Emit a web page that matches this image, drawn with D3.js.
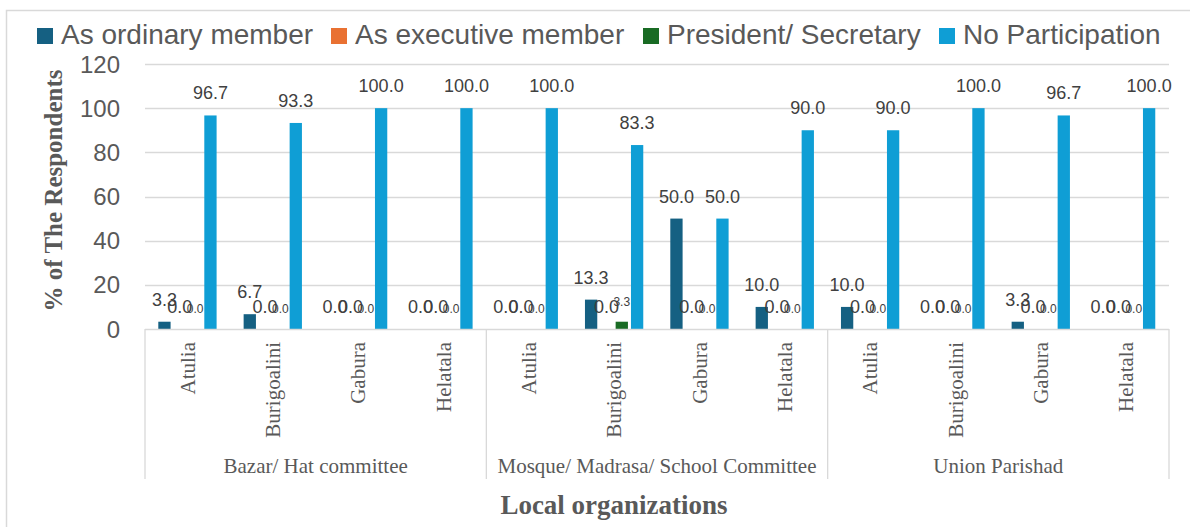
<!DOCTYPE html>
<html>
<head>
<meta charset="utf-8">
<script src="https://cdn.jsdelivr.net/npm/d3@7"></script>
<style>
  html, body { margin: 0; padding: 0; background: #fff; }
  svg { display: block; }
</style>
</head>
<body>
<svg id="chart" width="1190" height="527"></svg>
<script>
const groups = ["Bazar/ Hat committee", "Mosque/ Madrasa/ School Committee", "Union Parishad"];
const villages = ["Atulia", "Burigoalini", "Gabura", "Helatala"];
const seriesNames = ["As ordinary member", "As executive member", "President/ Secretary", "No Participation"];
const seriesColors = ["#156082", "#E97132", "#196B24", "#0F9ED5"];
const ordinary = [3.3, 6.7, 0.0, 0.0, 0.0, 13.3, 50.0, 10.0, 10.0, 0.0, 3.3, 0.0];
const executive = [0.0, 0.0, 0.0, 0.0, 0.0, 0.0, 0.0, 0.0, 0.0, 0.0, 0.0, 0.0];
const president = [0.0, 0.0, 0.0, 0.0, 0.0, 3.3, 0.0, 0.0, 0.0, 0.0, 0.0, 0.0];
const noParticipation = [96.7, 93.3, 100.0, 100.0, 100.0, 83.3, 50.0, 90.0, 90.0, 100.0, 96.7, 100.0];
const yTicks = [0, 20, 40, 60, 80, 100, 120];
const yTitle = "% of The Respondents";
const xTitle = "Local organizations";

(function () {
const seriesValues = [ordinary, executive, president, noParticipation];
const categories = [];
groups.forEach((g, gi) => villages.forEach((v, vi) => categories.push({ id: gi + "|" + v, group: g, village: v })));

const svg = d3.select("#chart");
const pL = 145, pR = 1169, pT = 64, pB = 329;

// chart border (only top and left visible)
svg.append("rect").attr("x", 6.5).attr("y", 10.5).attr("width", 1300).attr("height", 700)
  .attr("fill", "none").attr("stroke", "#d9d9d9").attr("stroke-width", 1.5);

const y = d3.scaleLinear().domain([0, 120]).range([pB, pT]);
const x0 = d3.scaleBand().domain(categories.map(c => c.id)).range([pL, pR]).padding(0);
const x1 = d3.scaleBand().domain(d3.range(4)).range([13.3, 71.6]).paddingInner(0.198).paddingOuter(0);
const xg = d3.scaleBand().domain(groups).range([pL, pR]).padding(0);

// gridlines
svg.append("g").selectAll("line").data(yTicks.filter(t => t > 0)).join("line")
  .attr("x1", pL).attr("x2", pR)
  .attr("y1", d => Math.round(y(d)) + 0.5).attr("y2", d => Math.round(y(d)) + 0.5)
  .attr("stroke", "#d9d9d9").attr("stroke-width", 1.3);

// y tick labels
svg.append("g").selectAll("text").data(yTicks).join("text")
  .attr("x", 120).attr("y", d => y(d)).attr("dy", "0.36em")
  .attr("text-anchor", "end")
  .attr("font-family", "'Liberation Sans', Arial, sans-serif").attr("font-size", 24)
  .attr("fill", "#595959").text(d => d);

// bars
const barG = svg.append("g");
seriesValues.forEach((vals, si) => {
  barG.append("g").selectAll("rect").data(vals).join("rect")
    .attr("x", (d, i) => x0(categories[i].id) + x1(si))
    .attr("width", x1.bandwidth())
    .attr("y", d => y(d))
    .attr("height", d => y(0) - y(d))
    .attr("fill", seriesColors[si]);
});

// data labels
const labG = svg.append("g");
seriesValues.forEach((vals, si) => {
  labG.append("g").selectAll("text").data(vals).join("text")
    .attr("x", (d, i) => x0(categories[i].id) + x1(si) + x1.bandwidth() / 2)
    .attr("y", d => y(d) - 16)
    .attr("text-anchor", "middle")
    .attr("font-family", "'Liberation Sans', Arial, sans-serif")
    .attr("font-size", si === 2 ? 12 : 18)
    .attr("fill", "#404040")
    .text(d => d.toFixed(1));
});

// x axis line
svg.append("line").attr("x1", pL).attr("x2", pR).attr("y1", pB + 0.5).attr("y2", pB + 0.5)
  .attr("stroke", "#d9d9d9").attr("stroke-width", 1.3);

// group separators
const seps = groups.map(g => xg(g)).concat([pR]);
svg.append("g").selectAll("line").data(seps).join("line")
  .attr("x1", d => d).attr("x2", d => d).attr("y1", pB).attr("y2", 479)
  .attr("stroke", "#d9d9d9").attr("stroke-width", 1.3);

// village labels
svg.append("g").selectAll("text").data(categories).join("text")
  .attr("transform", d => `translate(${x0(d.id) + x0.bandwidth() / 2},342) rotate(-90)`)
  .attr("dy", "0.33em")
  .attr("text-anchor", "end")
  .attr("font-family", "'Liberation Serif', 'Times New Roman', serif").attr("font-size", 21)
  .attr("fill", "#595959").text(d => d.village);

// group labels
svg.append("g").selectAll("text").data(groups).join("text")
  .attr("x", d => xg(d) + xg.bandwidth() / 2).attr("y", 473)
  .attr("text-anchor", "middle")
  .attr("font-family", "'Liberation Serif', 'Times New Roman', serif").attr("font-size", 21)
  .attr("fill", "#595959").text(d => d);

// axis titles
svg.append("text").attr("x", 614).attr("y", 514).attr("text-anchor", "middle")
  .attr("font-family", "'Liberation Serif', 'Times New Roman', serif").attr("font-size", 27)
  .attr("font-weight", "bold").attr("fill", "#595959").text(xTitle);
svg.append("text").attr("transform", "translate(62,190.5) rotate(-90)").attr("text-anchor", "middle")
  .attr("font-family", "'Liberation Serif', 'Times New Roman', serif").attr("font-size", 25)
  .attr("font-weight", "bold").attr("fill", "#595959").text(yTitle);

// legend
const legendX = [37, 331, 643, 939];
const lg = svg.append("g");
seriesNames.forEach((n, i) => {
  lg.append("rect").attr("x", legendX[i]).attr("y", 28).attr("width", 16).attr("height", 16).attr("fill", seriesColors[i]);
  lg.append("text").attr("x", legendX[i] + 24).attr("y", 44)
    .attr("font-family", "'Liberation Sans', Arial, sans-serif").attr("font-size", 28)
    .attr("fill", "#595959").text(n);
});
})();
</script>
</body>
</html>
